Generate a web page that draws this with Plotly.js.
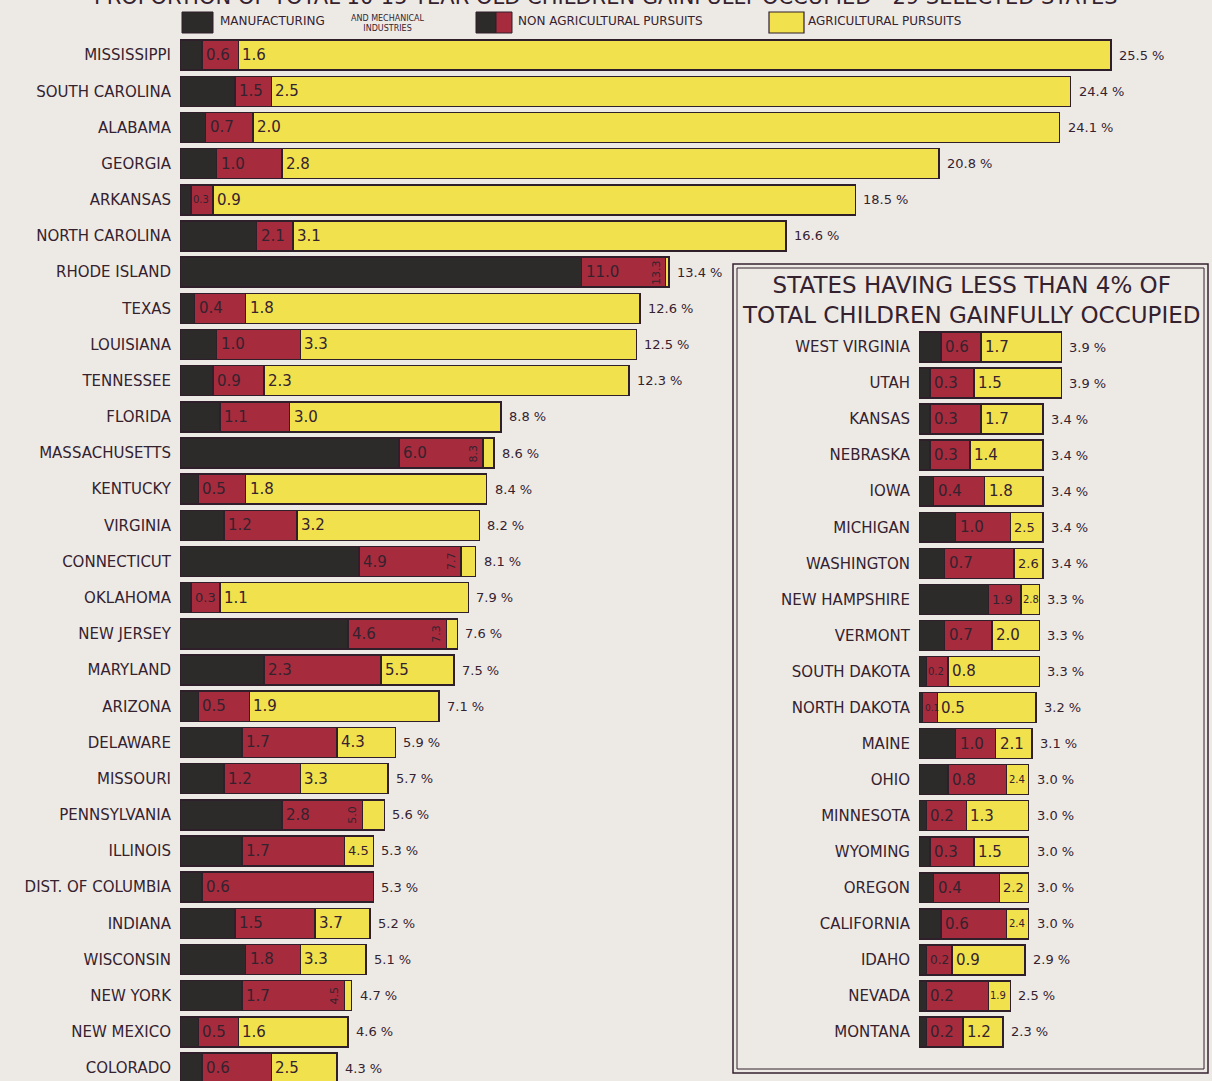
<!DOCTYPE html>
<html>
<head>
<meta charset="utf-8">
<script src="https://cdn.plot.ly/plotly-3.0.1.min.js"></script>
<style>
  html, body { margin: 0; padding: 0; background: #edeae6; }
  #chart { width: 1212px; height: 1081px; }
</style>
</head>
<body>
<div id="chart"></div>
<script>
// ---------- DATA ----------
// Main panel: states with 4% or more of children 10-15 gainfully occupied
const mainStates = ["MISSISSIPPI","SOUTH CAROLINA","ALABAMA","GEORGIA","ARKANSAS","NORTH CAROLINA",
  "RHODE ISLAND","TEXAS","LOUISIANA","TENNESSEE","FLORIDA","MASSACHUSETTS","KENTUCKY","VIRGINIA",
  "CONNECTICUT","OKLAHOMA","NEW JERSEY","MARYLAND","ARIZONA","DELAWARE","MISSOURI","PENNSYLVANIA",
  "ILLINOIS","DIST. OF COLUMBIA","INDIANA","WISCONSIN","NEW YORK","NEW MEXICO","COLORADO"];
// cumulative % : manufacturing and mechanical industries
const mainManuf = [0.6,1.5,0.7,1.0,0.3,2.1,11.0,0.4,1.0,0.9,1.1,6.0,0.5,1.2,4.9,0.3,4.6,2.3,0.5,1.7,1.2,2.8,1.7,0.6,1.5,1.8,1.7,0.5,0.6];
// cumulative % : manufacturing + non agricultural pursuits (null = no agricultural share)
const mainNonAg = [1.6,2.5,2.0,2.8,0.9,3.1,13.3,1.8,3.3,2.3,3.0,8.3,1.8,3.2,7.7,1.1,7.3,5.5,1.9,4.3,3.3,5.0,4.5,null,3.7,3.3,4.5,1.6,2.5];
// total % gainfully occupied
const mainTotal = [25.5,24.4,24.1,20.8,18.5,16.6,13.4,12.6,12.5,12.3,8.8,8.6,8.4,8.2,8.1,7.9,7.6,7.5,7.1,5.9,5.7,5.6,5.3,5.3,5.2,5.1,4.7,4.6,4.3];

// Inset panel: states having less than 4%
const insetStates = ["WEST VIRGINIA","UTAH","KANSAS","NEBRASKA","IOWA","MICHIGAN","WASHINGTON",
  "NEW HAMPSHIRE","VERMONT","SOUTH DAKOTA","NORTH DAKOTA","MAINE","OHIO","MINNESOTA","WYOMING",
  "OREGON","CALIFORNIA","IDAHO","NEVADA","MONTANA"];
const insetManuf = [0.6,0.3,0.3,0.3,0.4,1.0,0.7,1.9,0.7,0.2,0.1,1.0,0.8,0.2,0.3,0.4,0.6,0.2,0.2,0.2];
const insetNonAg = [1.7,1.5,1.7,1.4,1.8,2.5,2.6,2.8,2.0,0.8,0.5,2.1,2.4,1.3,1.5,2.2,2.4,0.9,1.9,1.2];
const insetTotal = [3.9,3.9,3.4,3.4,3.4,3.4,3.4,3.3,3.3,3.3,3.2,3.1,3.0,3.0,3.0,3.0,3.0,2.9,2.5,2.3];

const seriesNames = ["MANUFACTURING AND MECHANICAL INDUSTRIES","NON AGRICULTURAL PURSUITS","AGRICULTURAL PURSUITS"];
const chartTitle = "PROPORTION OF TOTAL 10-15 YEAR OLD CHILDREN GAINFULLY OCCUPIED—29 SELECTED STATES";
const insetTitle = "STATES HAVING LESS THAN 4% OF<br>TOTAL CHILDREN GAINFULLY OCCUPIED";

// ---------- STYLE ----------
const BG = "#edeae6";
const INK = "#35222f";
const C_BLACK = "#2d2a2a";
const C_RED = "#a62b3c";
const C_YELLOW = "#f1e14c";
const OUTLINE = "#2e1f2a";
const FONT = "DejaVu Sans, Arial, sans-serif";

function segs(manuf, nonag, total) {
  const cum = nonag.map((v, i) => v === null ? total[i] : v);
  return {
    black: manuf.slice(),
    red: cum.map((c, i) => +(c - manuf[i]).toFixed(2)),
    yellow: total.map((t, i) => +(t - cum[i]).toFixed(2)),
    cum: cum
  };
}

const M = segs(mainManuf, mainNonAg, mainTotal);
const I = segs(insetManuf, insetNonAg, insetTotal);

function barTraces(states, s, xa, ya) {
  const mk = (vals, color, name) => ({
    type: "bar", orientation: "h", y: states, x: vals, name: name,
    xaxis: xa, yaxis: ya, showlegend: false, hoverinfo: "x+y+name",
    marker: { color: color, line: { color: OUTLINE, width: 1.5 } }
  });
  return [mk(s.black, C_BLACK, seriesNames[0]), mk(s.red, C_RED, seriesNames[1]), mk(s.yellow, C_YELLOW, seriesNames[2])];
}

const data = [
  ...barTraces(mainStates, M, "x", "y"),
  ...barTraces(insetStates, I, "x2", "y2")
];

function sizeFor(w) {
  if (w < 0.5) return 9;
  if (w < 0.7) return 10;
  if (w < 0.8) return 12;
  if (w < 1.0) return 13;
  return 15;
}

const annotations = [];
function labelAnns(states, manuf, nonag, total, s, xa, ya, isMain) {
  states.forEach((st, i) => {
    const redW = s.red[i];
    // manufacturing label at start of red segment
    annotations.push({
      xref: xa, yref: ya, x: manuf[i], y: st, text: manuf[i].toFixed(1),
      xanchor: "left", yanchor: "middle", xshift: redW < 0.7 ? 0 : 2, showarrow: false,
      font: { family: FONT, size: sizeFor(redW), color: INK }
    });
    if (nonag[i] !== null) {
      const yw = s.yellow[i];
      if (isMain && yw <= 0.6) {
        annotations.push({
          xref: xa, yref: ya, x: nonag[i], y: st, text: nonag[i].toFixed(1),
          xanchor: "right", yanchor: "middle", xshift: -1, textangle: -90, showarrow: false,
          font: { family: FONT, size: 11, color: INK }
        });
      } else {
        annotations.push({
          xref: xa, yref: ya, x: nonag[i], y: st, text: nonag[i].toFixed(1),
          xanchor: "left", yanchor: "middle", xshift: yw < 0.7 ? 0 : 2, showarrow: false,
          font: { family: FONT, size: sizeFor(yw), color: INK }
        });
      }
    }
    annotations.push({
      xref: xa, yref: ya, x: total[i], y: st, text: total[i].toFixed(1) + " %",
      xanchor: "left", yanchor: "middle", xshift: 6, showarrow: false,
      font: { family: FONT, size: 13, color: INK }
    });
  });
}
labelAnns(mainStates, mainManuf, mainNonAg, mainTotal, M, "x", "y", true);
labelAnns(insetStates, insetManuf, insetNonAg, insetTotal, I, "x2", "y2", false);

const W = 1212, H = 1081;
const px = v => v / W, py = v => 1 - v / H;

// title (cut at top in the original)
annotations.push({ xref: "paper", yref: "paper", x: px(606), y: py(0), yanchor: "middle", yshift: 3,
  text: chartTitle, showarrow: false, font: { family: FONT, size: 21, color: INK } });
// inset title
annotations.push({ xref: "paper", yref: "paper", x: px(971), y: py(300), yanchor: "middle", xanchor: "center",
  text: insetTitle, showarrow: false, font: { family: FONT, size: 23, color: INK } });

// legend text
annotations.push({ xref: "paper", yref: "paper", x: px(218), y: py(21), xanchor: "left", yanchor: "middle",
  text: "MANUFACTURING", showarrow: false, font: { family: FONT, size: 12, color: INK } });
annotations.push({ xref: "paper", yref: "paper", x: px(388), y: py(23), xanchor: "center", yanchor: "middle",
  text: "AND MECHANICAL<br>INDUSTRIES", showarrow: false, font: { family: FONT, size: 8, color: INK } });
annotations.push({ xref: "paper", yref: "paper", x: px(516), y: py(21), xanchor: "left", yanchor: "middle",
  text: "NON AGRICULTURAL PURSUITS", showarrow: false, font: { family: FONT, size: 12, color: INK } });
annotations.push({ xref: "paper", yref: "paper", x: px(806), y: py(21), xanchor: "left", yanchor: "middle",
  text: "AGRICULTURAL PURSUITS", showarrow: false, font: { family: FONT, size: 12, color: INK } });

const shapes = [
  // legend swatches
  { type: "rect", xref: "paper", yref: "paper", x0: px(182), x1: px(213), y0: py(33), y1: py(12),
    fillcolor: C_BLACK, line: { color: OUTLINE, width: 1 } },
  { type: "rect", xref: "paper", yref: "paper", x0: px(476), x1: px(496), y0: py(33), y1: py(12),
    fillcolor: C_BLACK, line: { color: OUTLINE, width: 1 } },
  { type: "rect", xref: "paper", yref: "paper", x0: px(496), x1: px(512), y0: py(33), y1: py(12),
    fillcolor: C_RED, line: { color: OUTLINE, width: 1 } },
  { type: "rect", xref: "paper", yref: "paper", x0: px(769), x1: px(804), y0: py(33), y1: py(12),
    fillcolor: C_YELLOW, line: { color: OUTLINE, width: 1.2 } },
  // inset box (double rule)
  { type: "rect", xref: "paper", yref: "paper", x0: px(733), x1: px(1208), y0: py(1073), y1: py(264),
    fillcolor: "rgba(0,0,0,0)", line: { color: INK, width: 1.5 }, layer: "below" },
  { type: "rect", xref: "paper", yref: "paper", x0: px(737), x1: px(1204), y0: py(1069), y1: py(268),
    fillcolor: "rgba(0,0,0,0)", line: { color: INK, width: 1 }, layer: "below" }
];

const yTickFont = { family: FONT, size: 15, color: INK };
const layout = {
  width: W, height: H,
  paper_bgcolor: BG, plot_bgcolor: "rgba(0,0,0,0)",
  margin: { l: 0, r: 0, t: 0, b: 0 },
  barmode: "stack", bargap: 0.17,
  showlegend: false,
  font: { family: FONT, color: INK },
  xaxis: { domain: [px(180), px(1202)], range: [0, 28], visible: false, fixedrange: true },
  yaxis: { domain: [0, py(37)], range: [28 + 13 / 36.2, -0.5], type: "category",
    showgrid: false, zeroline: false, showline: false, ticks: "", ticklabelstandoff: 8,
    tickfont: yTickFont, anchor: "x" },
  xaxis2: { domain: [px(919), px(1211)], range: [0, 8], visible: false, anchor: "y2", fixedrange: true },
  yaxis2: { domain: [py(1050), py(329)], range: [19.5, -0.5], type: "category",
    showgrid: false, zeroline: false, showline: false, ticks: "", ticklabelstandoff: 8,
    tickfont: yTickFont, anchor: "x2" },
  annotations: annotations,
  shapes: shapes
};

Plotly.newPlot("chart", data, layout, { displayModeBar: false, staticPlot: true });
</script>
</body>
</html>
